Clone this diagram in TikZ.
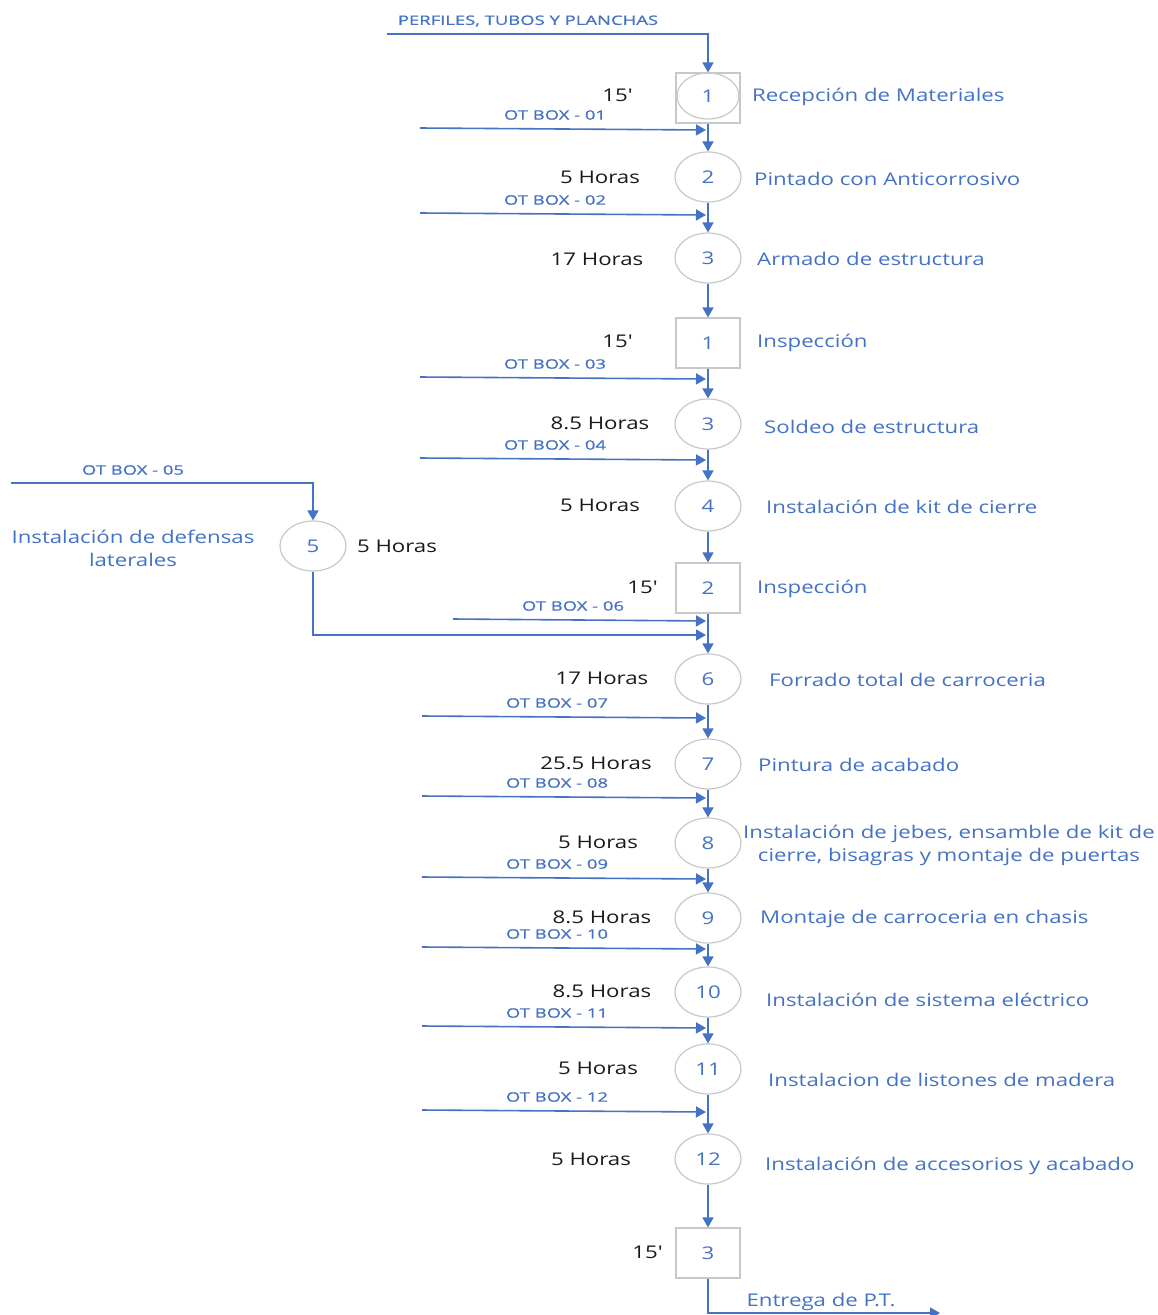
\documentclass[tikz,border=0pt]{standalone}
\usepackage{fontspec}
\setmainfont[FakeStretch=1.27]{Open Sans}
\newfontfamily\otfont[FakeStretch=1.42,FakeBold=0.7]{Open Sans}
\usetikzlibrary{arrows.meta,shapes.geometric}
\definecolor{flowblue}{HTML}{4472C4}
\definecolor{outline}{HTML}{C8C8C8}
\definecolor{timetext}{HTML}{1A1A1A}
\begin{document}
\begin{tikzpicture}[x=1pt,y=-1pt,
  link/.style={draw=flowblue,line width=1.6pt},
  flow/.style={link,-{Triangle[length=10pt,width=11pt]}},
  op/.style={ellipse,draw=outline,line width=1.2pt,minimum width=66pt,minimum height=50pt,
    inner sep=0pt,text=flowblue,font=\fontsize{17.5}{20}\selectfont},
  insp/.style={rectangle,draw=outline,line width=1.2pt,minimum width=64pt,minimum height=50pt,
    inner sep=0pt,text=flowblue,font=\fontsize{17.5}{20}\selectfont},
  desc/.style={text=flowblue,anchor=west,inner sep=0pt,yshift=-2pt,font=\fontsize{17.5}{23}\selectfont},
  tlabel/.style={text=timetext,inner sep=0pt,font=\fontsize{17.5}{22}\selectfont},
  ot/.style={text=flowblue,inner sep=0pt,font=\otfont\fontsize{13}{15}\selectfont},
]
\useasboundingbox (0,0) rectangle (1157,1315);
\fill[white] (0,0) rectangle (1157,1315);

% ---------- main column ----------
\node[insp] (r1) at (708,98) {};
\node[op,minimum width=62pt,minimum height=46pt] (c1) at (708,96) {1};
\node[op] (op2) at (708,177) {2};
\node[op] (op3) at (708,258) {3};
\node[insp] (in1) at (708,343) {1};
\node[op] (op3b) at (708,424) {3};
\node[op] (op4) at (708,506) {4};
\node[insp] (in2) at (708,588) {2};
\node[op] (op6) at (708,679) {6};
\node[op] (op7) at (708,764) {7};
\node[op] (op8) at (708,843) {8};
\node[op] (op9) at (708,918) {9};
\node[op] (op10) at (708,992) {10};
\node[op] (op11) at (708,1069) {11};
\node[op] (op12) at (708,1159) {12};
\node[insp] (in3) at (708,1253) {3};

% side operation
\node[op] (op5) at (313,546) {5};

% ---------- descriptions ----------
\node[desc] (d1) at (752,95) {Recepción de Materiales};
\node[desc] (d2) at (754,177) {Pintado con Anticorrosivo};
\node[desc] (d3) at (757,257) {Armado de estructura};
\node[desc] (d4) at (757,341) {Inspección};
\node[desc] (d5) at (764,425) {Soldeo de estructura};
\node[desc] (d6) at (766,505) {Instalación de kit de cierre};
\node[desc] (d7) at (757,587) {Inspección};
\node[desc] (d8) at (769,678) {Forrado total de carroceria};
\node[desc] (d9) at (758,763) {Pintura de acabado};
\node[desc,anchor=center,align=center] (d10) at (949,843)
  {Instalación de jebes, ensamble de kit de\\cierre, bisagras y montaje de puertas};
\node[desc] (d11) at (760,917) {Montaje de carroceria en chasis};
\node[desc] (d12) at (766,998) {Instalación de sistema eléctrico};
\node[desc] (d13) at (768,1078) {Instalacion de listones de madera};
\node[desc] (d14) at (765,1164) {Instalación de accesorios y acabado};
\node[desc,anchor=center,align=center] (d15) at (133,546) {Instalación de defensas\\laterales};
\node[desc,anchor=center] (d16) at (821,1300) {Entrega de P.T.};

% ---------- times ----------
\node[tlabel] (t1) at (617,95) {15\textquotesingle};
\node[tlabel] (t2) at (600,177) {5 Horas};
\node[tlabel] (t3) at (597,259) {17 Horas};
\node[tlabel] (t4) at (617,341) {15\textquotesingle};
\node[tlabel] (t5) at (600,423) {8.5 Horas};
\node[tlabel] (t6) at (600,505) {5 Horas};
\node[tlabel] (t7) at (642,587) {15\textquotesingle};
\node[tlabel] (t8) at (602,678) {17 Horas};
\node[tlabel] (t9) at (596,763) {25.5 Horas};
\node[tlabel] (t10) at (598,842) {5 Horas};
\node[tlabel] (t11) at (602,917) {8.5 Horas};
\node[tlabel] (t12) at (602,991) {8.5 Horas};
\node[tlabel] (t13) at (598,1068) {5 Horas};
\node[tlabel] (t14) at (591,1159) {5 Horas};
\node[tlabel] (t15) at (647,1252) {15\textquotesingle};
\node[tlabel] (t16) at (397,546) {5 Horas};

% ---------- material labels ----------
\node[ot] (m0) at (528,21) {PERFILES, TUBOS Y PLANCHAS};
\node[ot] (m1) at (555,115) {OT BOX - 01};
\node[ot] (m2) at (555,200) {OT BOX - 02};
\node[ot] (m3) at (555,364) {OT BOX - 03};
\node[ot] (m4) at (555,445) {OT BOX - 04};
\node[ot] (m5) at (133,470) {OT BOX - 05};
\node[ot] (m6) at (573,606) {OT BOX - 06};
\node[ot] (m7) at (557,703) {OT BOX - 07};
\node[ot] (m8) at (557,783) {OT BOX - 08};
\node[ot] (m9) at (557,864) {OT BOX - 09};
\node[ot] (m10) at (557,934) {OT BOX - 10};
\node[ot] (m11) at (557,1013) {OT BOX - 11};
\node[ot] (m12) at (557,1097) {OT BOX - 12};

% ---------- feed coordinates ----------
\coordinate (s0) at (387,34);
\coordinate (s1) at (420,128);  \coordinate (e1) at (706,130);
\coordinate (s2) at (420,213);  \coordinate (e2) at (706,215);
\coordinate (s3) at (420,377);  \coordinate (e3) at (706,379);
\coordinate (s4) at (420,458);  \coordinate (e4) at (706,460);
\coordinate (s5) at (11,483);
\coordinate (s6) at (453,619);  \coordinate (e6) at (706,621);
\coordinate (j5) at (706,635);
\coordinate (s7) at (422,716);  \coordinate (e7) at (706,718);
\coordinate (s8) at (422,796);  \coordinate (e8) at (706,798);
\coordinate (s9) at (422,877);  \coordinate (e9) at (706,879);
\coordinate (s10) at (422,947); \coordinate (e10) at (706,949);
\coordinate (s11) at (422,1026);\coordinate (e11) at (706,1028);
\coordinate (s12) at (422,1110);\coordinate (e12) at (706,1112);
\coordinate (out) at (940,1313);

% ---------- main flow ----------
\draw[flow] (s0) -| (r1.north);
\draw[flow] (r1.south) -- (op2.north);
\draw[flow] (op2.south) -- (op3.north);
\draw[flow] (op3.south) -- (in1.north);
\draw[flow] (in1.south) -- (op3b.north);
\draw[flow] (op3b.south) -- (op4.north);
\draw[flow] (op4.south) -- (in2.north);
\draw[flow] (in2.south) -- (op6.north);
\draw[flow] (op6.south) -- (op7.north);
\draw[flow] (op7.south) -- (op8.north);
\draw[flow] (op8.south) -- (op9.north);
\draw[flow] (op9.south) -- (op10.north);
\draw[flow] (op10.south) -- (op11.north);
\draw[flow] (op11.south) -- (op12.north);
\draw[flow] (op12.south) -- (in3.north);
\draw[flow] (in3.south) |- (out);

% side branch
\draw[flow] (s5) -| (op5.north);
\draw[flow] (op5.south) |- (j5);

% ---------- material feeds ----------
\foreach \k in {1,2,3,4,6,7,8,9,10,11,12}
  \draw[flow] (s\k) -- (e\k);
\end{tikzpicture}
\end{document}
